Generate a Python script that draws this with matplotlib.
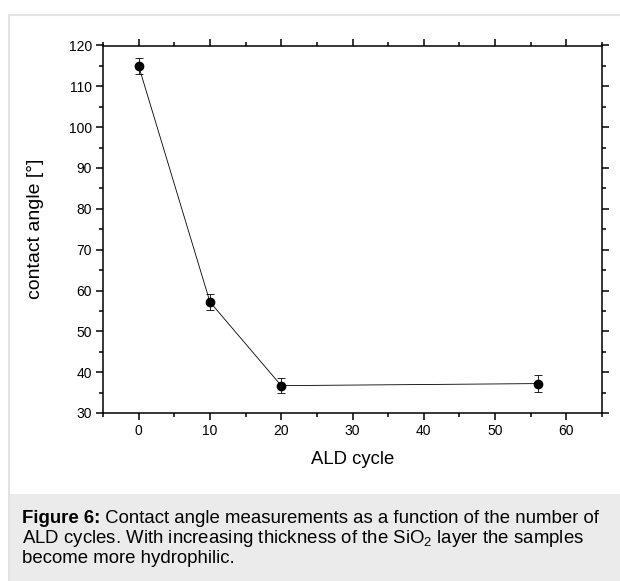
import matplotlib
matplotlib.use("Agg")
import matplotlib.pyplot as plt
from matplotlib.patches import Rectangle
from matplotlib.ticker import MultipleLocator

plt.rcParams['font.family'] = ['Liberation Sans', 'DejaVu Sans']
plt.rcParams['mathtext.fontset'] = 'custom'
plt.rcParams['mathtext.rm'] = 'Liberation Sans'
plt.rcParams['mathtext.it'] = 'Liberation Sans:italic'
plt.rcParams['mathtext.bf'] = 'Liberation Sans:bold'

# contact angle vs ALD cycles
ald_cycles = [0, 10, 20, 56]
contact_angle = [115.0, 57.2, 36.7, 37.2]
angle_err = [1.9, 1.9, 1.9, 2.0]

x_ticks = [0, 10, 20, 30, 40, 50, 60]
y_ticks = [30, 40, 50, 60, 70, 80, 90, 100, 110, 120]

caption_bold = "Figure 6:"
caption_line1 = " Contact angle measurements as a function of the number of"
caption_line2 = "ALD cycles. With increasing thickness of the SiO$_2$ layer the samples"
caption_line3 = "become more hydrophilic."

W, H = 620, 581
fig = plt.figure(figsize=(W / 100, H / 100), dpi=100)

# panel frame and caption background (behind the axes)
fig.add_artist(Rectangle((9 / W, 0), 1, 1 - 15 / H, transform=fig.transFigure,
                         facecolor='white', edgecolor='#e3e3e3', linewidth=1.5,
                         zorder=-10))
fig.add_artist(Rectangle((9.5 / W, 0), 1, 1 - 493.5 / H, transform=fig.transFigure,
                         facecolor='#ebebeb', edgecolor='none', zorder=-9))

ax = fig.add_axes([103 / W, 1 - 413 / H, 499 / W, (413 - 45.5) / H])
ax.patch.set_alpha(0)
ax.errorbar(ald_cycles, contact_angle, yerr=angle_err, color='black', lw=0.6,
            marker='o', ms=6, elinewidth=0.6, capsize=2.8, capthick=0.6)

ax.set_xlim(-5, 65)
ax.set_ylim(30, 120)
ax.set_xticks(x_ticks)
ax.set_yticks(y_ticks)
ax.xaxis.set_minor_locator(MultipleLocator(5))
ax.yaxis.set_minor_locator(MultipleLocator(5))
ax.tick_params(which='both', direction='out', top=True, right=True,
               labelsize=10, width=1.1, pad=3)
ax.tick_params(which='major', length=5)
ax.tick_params(which='minor', length=3)
for s in ax.spines.values():
    s.set_linewidth(1.1)

fig.text(352.5 / W, 1 - 460 / H, "ALD cycle", ha='center', va='center', fontsize=13.3)
fig.text(35 / W, 1 - 229 / H, "contact angle [°]", ha='center', va='center',
         rotation=90, fontsize=14)

# caption
fs = 13.4
t = fig.text(22 / W, 1 - 523.3 / H, caption_bold, fontsize=fs, fontweight='bold',
             va='baseline', ha='left')
fig.canvas.draw()
bb = t.get_window_extent()
fig.text(bb.x1 / W, 1 - 523.3 / H, caption_line1, fontsize=fs, va='baseline', ha='left')
fig.text(22 / W, 1 - 543 / H, caption_line2, fontsize=fs, va='baseline', ha='left')
fig.text(22 / W, 1 - 562.7 / H, caption_line3, fontsize=fs, va='baseline', ha='left')

fig.savefig("out.png", dpi=100)
